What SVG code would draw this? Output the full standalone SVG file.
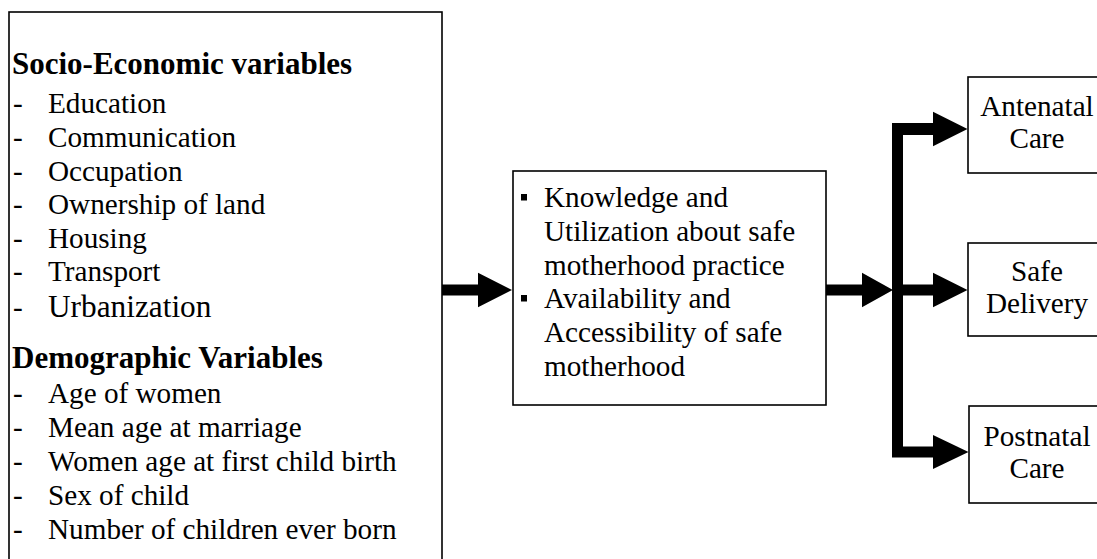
<svg xmlns="http://www.w3.org/2000/svg" width="1097" height="559" viewBox="0 0 1097 559">
<style>
  .box { fill: #ffffff; stroke: #000000; stroke-width: 1.6; }
  .t { font-family: "Liberation Serif", "Times New Roman", serif; font-size: 29.2px; fill: #000000; }
  .h { font-family: "Liberation Serif", "Times New Roman", serif; font-size: 31px; font-weight: bold; fill: #000000; }
  .c { text-anchor: middle; }
  .arrow { fill: #000000; stroke: none; }
</style>
<rect x="0" y="0" width="1097" height="559" fill="#ffffff"/>

<g id="determinants">
  <rect class="box" x="9" y="12" width="433" height="570"/>
  <text class="h" x="12" y="74">Socio-Economic variables</text>
  <text class="t" x="13" y="113.3">-</text><text class="t" x="48" y="113.3">Education</text>
  <text class="t" x="13" y="146.9">-</text><text class="t" x="48" y="146.9">Communication</text>
  <text class="t" x="13" y="180.5">-</text><text class="t" x="48" y="180.5">Occupation</text>
  <text class="t" x="13" y="214.1">-</text><text class="t" x="48" y="214.1">Ownership of land</text>
  <text class="t" x="13" y="247.7">-</text><text class="t" x="48" y="247.7">Housing</text>
  <text class="t" x="13" y="281.3">-</text><text class="t" x="48" y="281.3">Transport</text>
  <text class="t" x="13" y="316.5">-</text><text class="t" x="48" y="316.5" style="font-size:31.3px">Urbanization</text>
  <text class="h" x="12" y="367.5">Demographic Variables</text>
  <text class="t" x="13" y="403">-</text><text class="t" x="48" y="403">Age of women</text>
  <text class="t" x="13" y="437">-</text><text class="t" x="48" y="437">Mean age at marriage</text>
  <text class="t" x="13" y="471">-</text><text class="t" x="48" y="471">Women age at first child birth</text>
  <text class="t" x="13" y="505">-</text><text class="t" x="48" y="505">Sex of child</text>
  <text class="t" x="13" y="539">-</text><text class="t" x="48" y="539">Number of children ever born</text>
</g>

<g id="knowledge">
  <rect class="box" x="513" y="171" width="313" height="234"/>
  <rect x="521" y="194" width="6" height="6.5" fill="#000000"/>
  <text class="t" x="544" y="207">Knowledge and</text>
  <text class="t" x="544" y="241">Utilization about safe</text>
  <text class="t" x="544" y="274.5">motherhood practice</text>
  <rect x="521" y="295" width="6" height="6.5" fill="#000000"/>
  <text class="t" x="544" y="308">Availability and</text>
  <text class="t" x="544" y="342">Accessibility of safe</text>
  <text class="t" x="544" y="375.5">motherhood</text>
</g>

<g id="antenatal">
  <rect class="box" x="968" y="77" width="145" height="96"/>
  <text class="t c" x="1037" y="116">Antenatal</text>
  <text class="t c" x="1037" y="148">Care</text>
</g>

<g id="delivery">
  <rect class="box" x="968" y="243" width="145" height="93"/>
  <text class="t c" x="1037" y="280.5">Safe</text>
  <text class="t c" x="1037" y="312.5">Delivery</text>
</g>

<g id="postnatal">
  <rect class="box" x="969" y="406" width="145" height="97"/>
  <text class="t c" x="1037" y="445.5">Postnatal</text>
  <text class="t c" x="1037" y="477.5">Care</text>
</g>

<g id="connectors">
  <polygon class="arrow" points="442,284.5 478,284.5 478,272.7 512,290 478,307.3 478,295.5 442,295.5"/>
  <polygon class="arrow" points="826,284.5 862,284.5 862,272.7 893,290 862,307.3 862,295.5 826,295.5"/>
  <polygon class="arrow" points="892,123 933,123 933,111.8 967.5,129 933,146.2 933,135 903,135 903,284.5 933,284.5 933,272.8 967.5,290 933,307.2 933,295.5 903,295.5 903,446.5 933,446.5 933,435 968.5,452 933,469 933,457.5 892,457.5"/>
</g>
</svg>
